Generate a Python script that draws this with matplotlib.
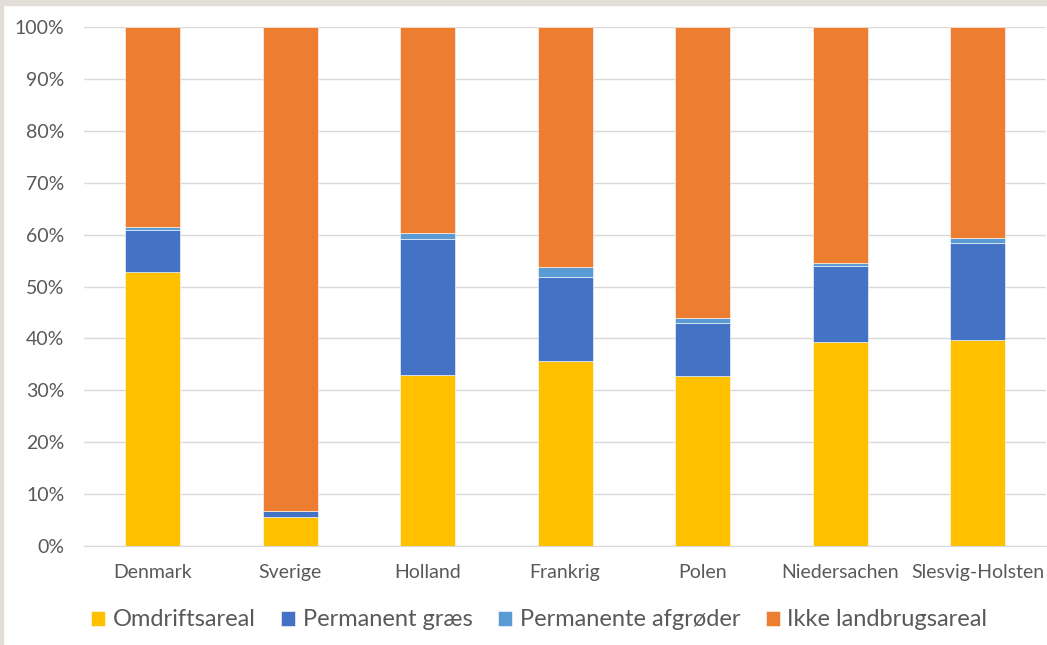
import numpy as np
import matplotlib.pyplot as plt
from matplotlib.patches import Rectangle
from matplotlib.ticker import PercentFormatter

# Arealfordeling i procent af samlet areal
regions = ['Denmark', 'Sverige', 'Holland', 'Frankrig', 'Polen', 'Niedersachen', 'Slesvig-Holsten']
omdrift = [52.7, 5.6, 32.9, 35.6, 32.8, 39.3, 39.6]
perm_graes = [8.2, 1.1, 26.3, 16.3, 10.1, 14.7, 18.8]
perm_afg = [0.5, 0.1, 1.1, 1.8, 1.1, 0.5, 0.9]
ikke_landbrug = [38.6, 93.2, 39.7, 46.3, 56.0, 45.5, 40.7]

series = [
    ('Omdriftsareal', omdrift, '#FFC000'),
    ('Permanent græs', perm_graes, '#4472C4'),
    ('Permanente afgrøder', perm_afg, '#5B9BD5'),
    ('Ikke landbrugsareal', ikke_landbrug, '#ED7D31'),
]

plt.rcParams['font.family'] = ['Lato', 'DejaVu Sans']
txt = '#595959'

fig = plt.figure(figsize=(10.47, 6.45), dpi=100)
ax = fig.add_axes([83.75 / 1047, 1 - 546 / 645, (1046.25 - 83.75) / 1047, (546 - 27) / 645])

x = np.arange(len(regions))
bottom = np.zeros(len(regions))
for name, vals, col in series:
    vals = np.array(vals)
    ax.bar(x, vals, width=0.4, bottom=bottom, color=col, label=name,
           edgecolor='white', linewidth=0.4, zorder=3)
    bottom += vals

ax.set_xlim(-0.5, len(regions) - 0.5)
ax.set_ylim(0, 100)
ax.set_yticks(np.arange(0, 101, 10))
ax.yaxis.set_major_formatter(PercentFormatter(decimals=0))
ax.set_xticks(x)
ax.set_xticklabels(regions)
ax.grid(axis='y', color='#d9d9d9', linewidth=1.0, zorder=0)
for s in ['top', 'right', 'left']:
    ax.spines[s].set_visible(False)
ax.spines['bottom'].set_color('#d9d9d9')
ax.tick_params(axis='both', length=0, colors=txt, labelsize=14)
ax.tick_params(axis='y', pad=14)
ax.tick_params(axis='x', pad=13)

fig.legend(loc='center', bbox_to_anchor=(0.515, 1 - 620 / 645), ncol=4, frameon=False,
           fontsize=17, labelcolor=txt, handlelength=0.6, handleheight=0.6,
           handletextpad=0.3, columnspacing=1.1)

# Ramme i toppen og til venstre
fig.patches.append(Rectangle((0, 1 - 5 / 645), 1, 5 / 645, transform=fig.transFigure,
                             color='#e2ddd6', zorder=0))
fig.patches.append(Rectangle((0, 0), 3 / 1047, 1, transform=fig.transFigure,
                             color='#e2ddd6', zorder=0))

fig.savefig('out.png', dpi=100)
